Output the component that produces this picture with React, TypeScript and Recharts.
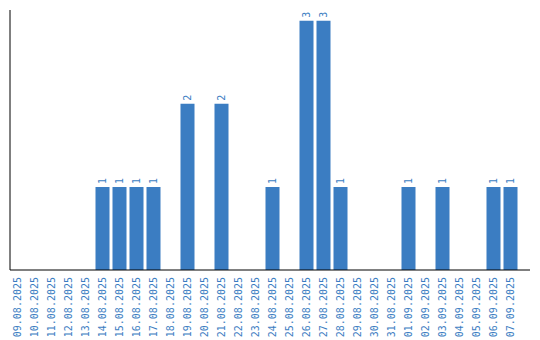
import { BarChart, Bar, XAxis, YAxis, LabelList } from 'recharts';

const DATES: string[] = [
  '09.08.2025', '10.08.2025', '11.08.2025', '12.08.2025', '13.08.2025',
  '14.08.2025', '15.08.2025', '16.08.2025', '17.08.2025', '18.08.2025',
  '19.08.2025', '20.08.2025', '21.08.2025', '22.08.2025', '23.08.2025',
  '24.08.2025', '25.08.2025', '26.08.2025', '27.08.2025', '28.08.2025',
  '29.08.2025', '30.08.2025', '31.08.2025', '01.09.2025', '02.09.2025',
  '03.09.2025', '04.09.2025', '05.09.2025', '06.09.2025', '07.09.2025',
];

const COUNTS: number[] = [
  0, 0, 0, 0, 0,
  1, 1, 1, 1, 0,
  2, 0, 2, 0, 0,
  1, 0, 3, 3, 1,
  0, 0, 0, 1, 0,
  1, 0, 0, 1, 1,
];

const BLUE = '#3b7dc2';
const FONT = 'DejaVu Sans Mono';

const data = DATES.map((date, i) => ({ date, count: COUNTS[i] }));

// Date label, rotated so it reads bottom to top, hanging under the axis
const DateTick = (props: any) => {
  const { x, y, payload } = props;
  return (
    <text
      transform={`translate(${x}, ${y - 1}) rotate(-90)`}
      textAnchor="end"
      dy="0.35em"
      fill={BLUE}
      style={{ fontFamily: FONT, fontSize: 10 }}
    >
      {payload.value}
    </text>
  );
};

// Value over each bar, also rotated
const ValueLabel = (props: any) => {
  const { x, y, width, value } = props;
  if (!value) return null;
  const cx = x + width / 2;
  return (
    <text
      transform={`translate(${cx}, ${y - 3}) rotate(-90)`}
      textAnchor="start"
      dy="0.35em"
      fill={BLUE}
      style={{ fontFamily: FONT, fontSize: 10 }}
    >
      {value}
    </text>
  );
};

export default function App() {
  return (
    <div style={{ position: 'absolute', left: 0, top: 0, background: '#fff' }}>
      <BarChart
        width={540}
        height={340}
        data={data}
        margin={{ top: 10, right: 10, bottom: 0, left: 9 }}
      >
        <XAxis
          dataKey="date"
          interval={0}
          height={70}
          padding={{ left: -1.5, right: 11.5 }}
          axisLine={{ stroke: '#000' }}
          tickLine={false}
          tick={(p) => <DateTick {...p} />}
        />
        <YAxis
          type="number"
          domain={[0, 3.13]}
          width={1}
          tick={false}
          tickLine={false}
          axisLine={{ stroke: '#000' }}
        />
        <Bar dataKey="count" fill={BLUE} barSize={14} isAnimationActive={false}>
          <LabelList dataKey="count" content={(p) => <ValueLabel {...p} />} />
        </Bar>
      </BarChart>
    </div>
  );
}
